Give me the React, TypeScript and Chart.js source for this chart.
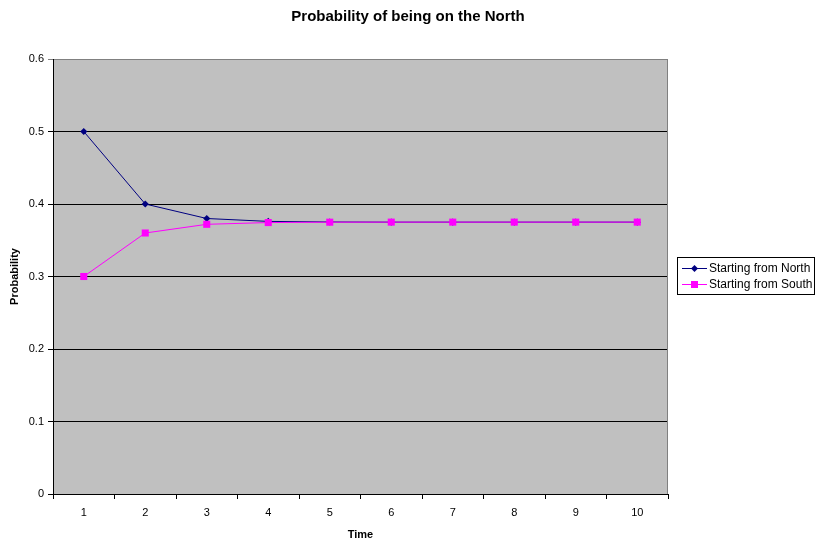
import React, { useEffect, useRef } from "react";
import { Chart, registerables } from "chart.js";

Chart.register(...registerables);

const timeLabels: string[] = ["1", "2", "3", "4", "5", "6", "7", "8", "9", "10"];
const fromNorth: number[] = [0.5, 0.4, 0.38, 0.376, 0.3752, 0.375, 0.375, 0.375, 0.375, 0.375];
const fromSouth: number[] = [0.3, 0.36, 0.372, 0.3744, 0.3749, 0.375, 0.375, 0.375, 0.375, 0.375];
const seriesNames: string[] = ["Starting from North", "Starting from South"];
const chartTitle = "Probability of being on the North";

const FONT = "'Liberation Sans', Arial, Helvetica, sans-serif";
const NAVY = "#000080";
const MAGENTA = "#FF00FF";

const decor = {
  id: "decor",
  beforeDraw(chart: any) {
    const { ctx, chartArea: a } = chart;
    ctx.save();
    ctx.fillStyle = "#ffffff";
    ctx.fillRect(0, 0, chart.width, chart.height);
    ctx.fillStyle = "#C0C0C0";
    ctx.fillRect(a.left, a.top, a.right - a.left, a.bottom - a.top);
    ctx.restore();
  },
  afterDraw(chart: any) {
    const { ctx, chartArea: a } = chart;
    ctx.save();
    // title
    ctx.fillStyle = "#000000";
    ctx.font = `bold 15px ${FONT}`;
    ctx.textAlign = "center";
    ctx.textBaseline = "alphabetic";
    ctx.fillText(chartTitle, 408, 21);

    // right plot border
    ctx.strokeStyle = "#808080";
    ctx.lineWidth = 1;
    ctx.beginPath();
    ctx.moveTo(Math.round(a.right) - 0.5, a.top);
    ctx.lineTo(Math.round(a.right) - 0.5, a.bottom);
    ctx.stroke();

    // legend box
    const bx = 677.5, by = 257.5, bw = 137, bh = 37;
    ctx.fillStyle = "#ffffff";
    ctx.fillRect(bx, by, bw, bh);
    ctx.strokeStyle = "#000000";
    ctx.strokeRect(bx, by, bw, bh);
    const items = [
      { name: seriesNames[0], color: NAVY, style: "diamond", y: 268.5 },
      { name: seriesNames[1], color: MAGENTA, style: "square", y: 284.5 },
    ];
    ctx.font = `12px ${FONT}`;
    ctx.textBaseline = "middle";
    ctx.textAlign = "left";
    for (const it of items) {
      ctx.strokeStyle = it.color;
      ctx.lineWidth = 1;
      ctx.beginPath();
      ctx.moveTo(682, it.y);
      ctx.lineTo(707, it.y);
      ctx.stroke();
      ctx.fillStyle = it.color;
      ctx.beginPath();
      if (it.style === "diamond") {
        ctx.moveTo(694.5, it.y - 3.5);
        ctx.lineTo(698, it.y);
        ctx.lineTo(694.5, it.y + 3.5);
        ctx.lineTo(691, it.y);
        ctx.closePath();
        ctx.fill();
      } else {
        ctx.fillRect(691, it.y - 3.5, 7, 7);
      }
      ctx.fillStyle = "#000000";
      ctx.fillText(it.name, 709, it.y + 0.5);
    }
    ctx.restore();
  },
};

export default function App() {
  const ref = useRef<HTMLCanvasElement | null>(null);

  useEffect(() => {
    document.body.style.margin = "0";
    if (!ref.current) return;
    const chart = new Chart(ref.current, {
      type: "line",
      data: {
        labels: timeLabels,
        datasets: [
          {
            label: seriesNames[0],
            data: fromNorth,
            borderColor: NAVY,
            backgroundColor: NAVY,
            borderWidth: 1,
            pointStyle: "rectRot",
            pointRadius: 3.6,
            pointBorderWidth: 0,
            tension: 0,
            order: 1,
          },
          {
            label: seriesNames[1],
            data: fromSouth,
            borderColor: MAGENTA,
            backgroundColor: MAGENTA,
            borderWidth: 1,
            pointStyle: "rect",
            pointRadius: 5,
            pointBorderWidth: 0,
            tension: 0,
            order: 0,
          },
        ],
      },
      options: {
        animation: false,
        responsive: false,
        maintainAspectRatio: false,
        layout: { padding: { left: 0, right: 149, top: 59, bottom: 0 } },
        plugins: {
          legend: { display: false },
          tooltip: { enabled: false },
          title: { display: false },
        },
        scales: {
          x: {
            type: "category",
            offset: true,
            afterFit: (s: any) => {
              s.height = 48;
            },
            grid: {
              offset: true,
              drawOnChartArea: false,
              drawTicks: true,
              tickLength: 5,
              color: "#000000",
            },
            border: { display: true, color: "#000000", width: 1 },
            ticks: {
              color: "#000000",
              font: { family: FONT, size: 11 },
              padding: 7,
              maxRotation: 0,
            },
            title: {
              display: true,
              text: "Time",
              color: "#000000",
              font: { family: FONT, size: 11, weight: "bold" },
              padding: { top: 0, bottom: 0 },
            },
          },
          y: {
            min: 0,
            max: 0.6,
            afterFit: (s: any) => {
              s.width = 53;
            },
            ticks: {
              stepSize: 0.1,
              color: "#000000",
              font: { family: FONT, size: 11 },
              padding: 4,
            },
            grid: {
              drawTicks: true,
              tickLength: 5,
              color: (c: any) =>
                c.tick && Math.abs(c.tick.value - 0.6) < 1e-9 ? "#808080" : "#000000",
            },
            border: { display: true, color: "#000000", width: 1 },
            title: {
              display: true,
              text: "Probability",
              color: "#000000",
              font: { family: FONT, size: 11, weight: "bold" },
              padding: { top: 8, bottom: 4 },
            },
          },
        },
      },
      plugins: [decor],
    });
    return () => chart.destroy();
  }, []);

  return <canvas ref={ref} width={817} height={542} style={{ display: "block" }} />;
}
